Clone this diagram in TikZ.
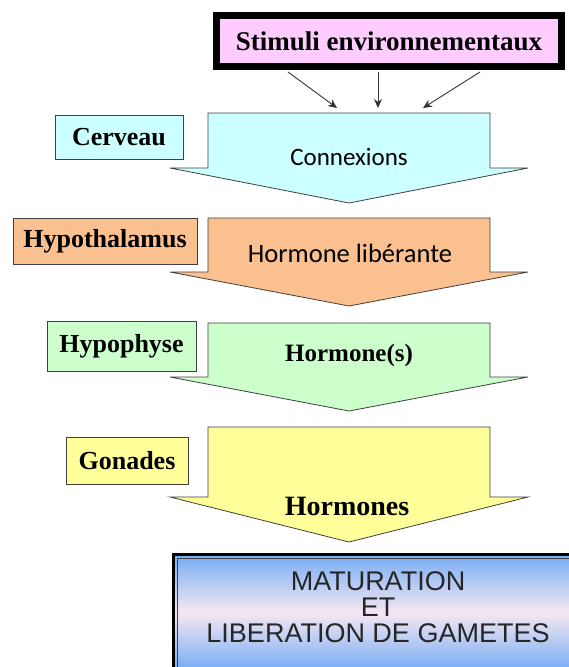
\documentclass[tikz,border=0pt]{standalone}
\usepackage{fontspec}
\setmainfont{Liberation Serif}
\newfontfamily\calib{Carlito}
\newfontfamily\arialf{Liberation Sans}
\usetikzlibrary{arrows.meta}
\definecolor{pinkS}{HTML}{FFCCFF}
\definecolor{cyanS}{HTML}{CCFFFF}
\definecolor{orangeS}{HTML}{FAC090}
\definecolor{greenS}{HTML}{CCFFCC}
\definecolor{yellowS}{HTML}{FFFF99}
\definecolor{blueS}{HTML}{72AAF4}
\definecolor{paleS}{HTML}{F6E8F2}
\definecolor{edgeS}{HTML}{404040}
\newcommand\bigarrow[4]{% fill, top, shoulder, tip
  \filldraw[fill=#1, draw=edgeS, line width=0.8pt]
    (208,#2) -- (490,#2) -- (490,#3) -- (528,#3) -- (349,#4) -- (170,#3) -- (208,#3) -- cycle;}
\tikzset{
  labelbox/.style={draw=edgeS, line width=0.9pt, inner sep=0pt, font=\fontsize{26}{30}\selectfont\bfseries},
  stimarrow/.style={-{Stealth[length=9pt,width=8pt]}, line width=0.9pt, draw=black!80},
  calibtext/.style={font=\calib\fontsize{25}{30}\selectfont},
  serftext/.style={font=\fontsize{25}{30}\selectfont\bfseries}
}
\begin{document}
\begin{tikzpicture}[x=1pt,y=-1pt]
\useasboundingbox (0,0) rectangle (569,667);
\fill[white] (0,0) rectangle (569,667);

% stimuli box
\node[draw=black, line width=7pt, fill=pinkS, minimum width=345pt, minimum height=51pt, inner sep=0pt,
      font=\fontsize{27}{30}\selectfont\bfseries] (stim) at (389,41) {Stimuli environnementaux};

% big arrows
\bigarrow{cyanS}{113}{168}{203}
\bigarrow{orangeS}{218}{272}{306}
\bigarrow{greenS}{323}{377}{411}
\bigarrow{yellowS}{427}{497}{542}

\coordinate (c1) at (337,108);
\coordinate (c2) at (378,108);
\coordinate (c3) at (423,108);
\draw[stimarrow] ([xshift=-101pt,yshift=-2pt]stim.south) -- (c1);
\draw[stimarrow] ([xshift=-11pt,yshift=-2pt]stim.south) -- (c2);
\draw[stimarrow] ([xshift=91pt,yshift=-2pt]stim.south) -- (c3);

% arrow texts
\node[calibtext] (conn) at (349,157) {Connexions};
\node[calibtext, font=\calib\fontsize{26.5}{30}\selectfont] (horlib) at (350,253) {Hormone libérante};
\node[serftext] (hors) at (349,355) {Hormone(s)};
\node[font=\fontsize{28}{32}\selectfont\bfseries] (hormones) at (347,506) {Hormones};

% label boxes
\node[labelbox, fill=cyanS, minimum width=128pt, minimum height=44pt] (cerveau) at (119,137) {Cerveau};
\node[labelbox, fill=orangeS, minimum width=184pt, minimum height=46pt] (hypoth) at (105,241) {Hypothalamus};
\node[labelbox, fill=greenS, minimum width=149pt, minimum height=50pt] (hypoph) at (121.5,346) {Hypophyse};
\node[labelbox, fill=yellowS, minimum width=122pt, minimum height=47pt] (gonades) at (127,460.5) {Gonades};

% result box
\shade[top color=blueS, bottom color=blueS, middle color=paleS] (172,553) rectangle (580,672);
\draw[black, line width=3pt] (173.5,554.5) rectangle (582,672);
\draw[edgeS, line width=0.8pt] (177.5,558.5) rectangle (582,672);
\node[font=\arialf\fontsize{27}{26}\selectfont, align=center, text=black!85] (result) at (378,607)
  {MATURATION\\ET\\LIBERATION DE GAMETES};
\end{tikzpicture}
\end{document}
